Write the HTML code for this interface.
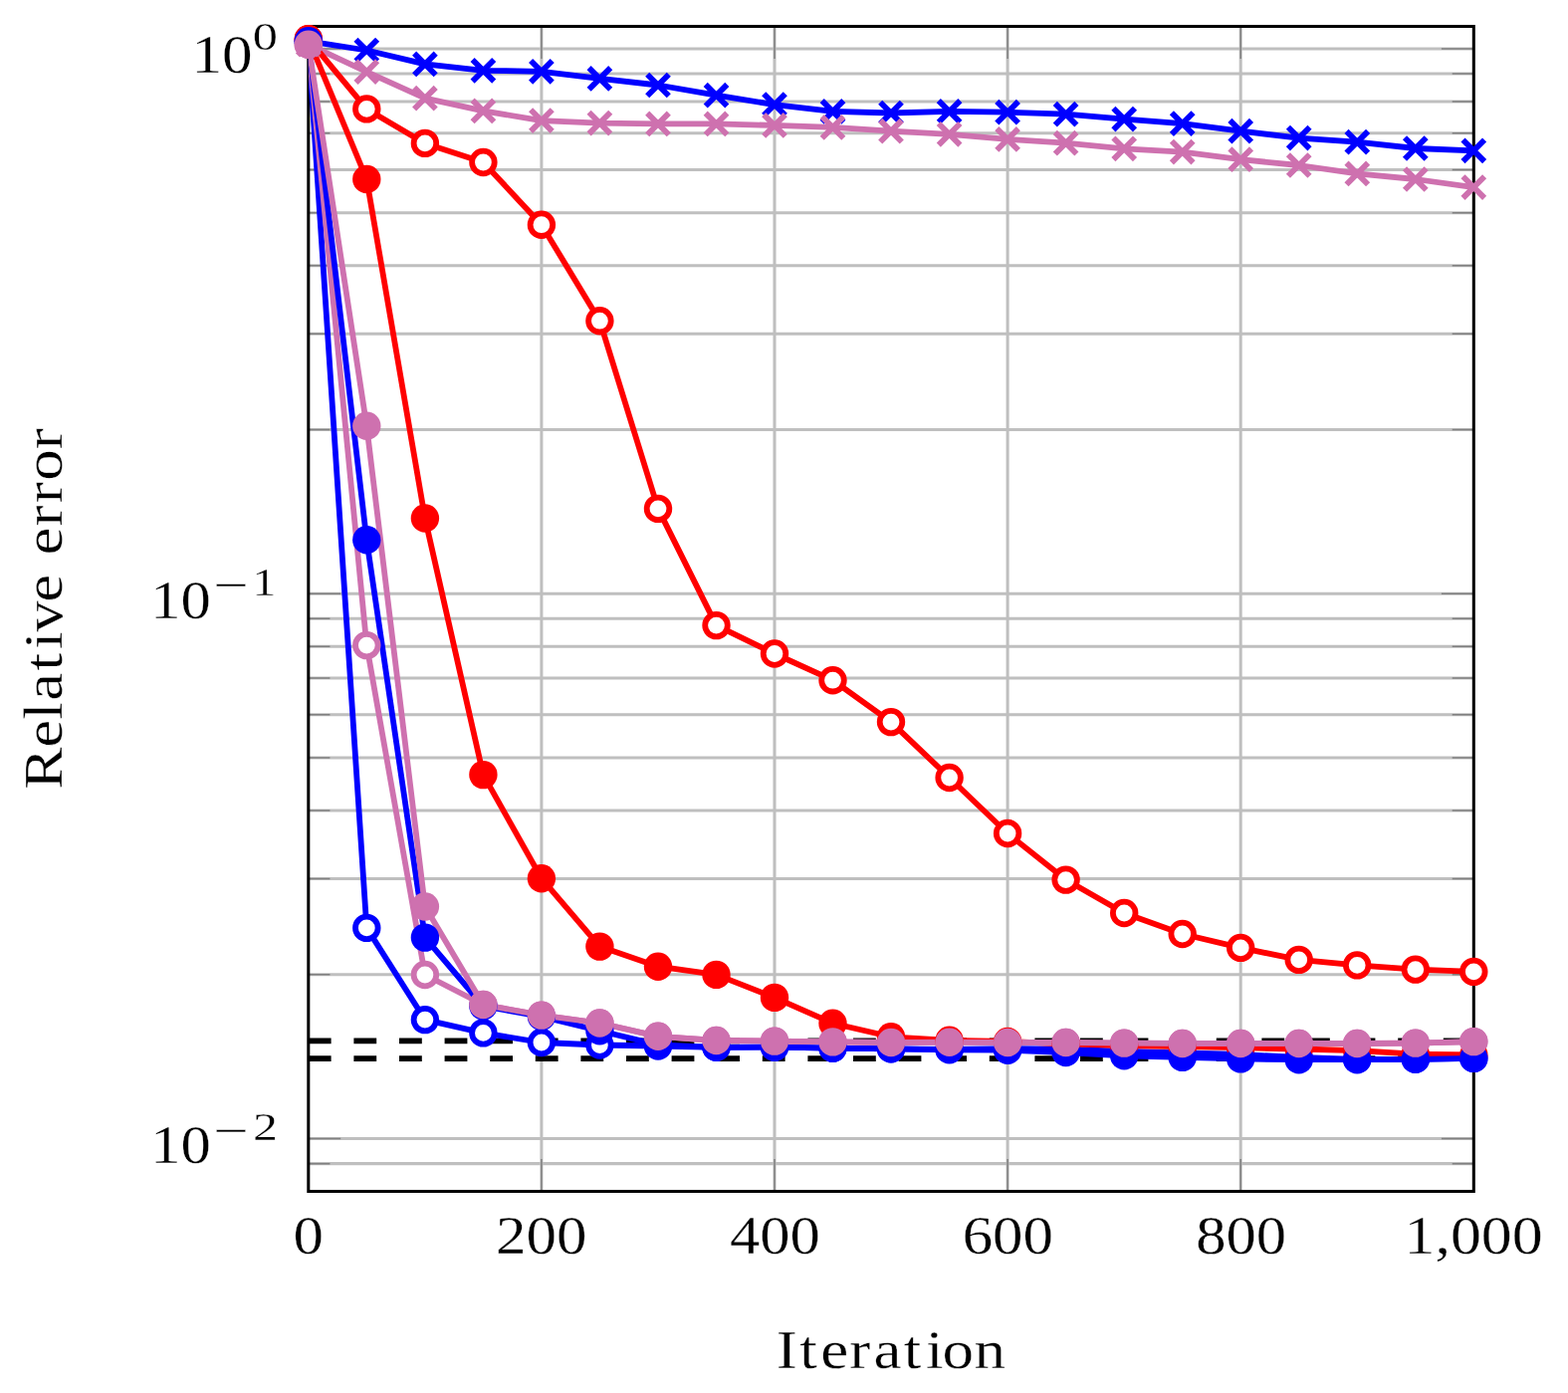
<!DOCTYPE html>
<html lang="en"><head><meta charset="utf-8"><title>Relative error vs. iteration</title>
<style>html,body{margin:0;padding:0;background:#fff}body{width:1575px;height:1399px;overflow:hidden}svg{display:block}text{font-family:"Liberation Serif","DejaVu Serif",serif;fill:#000;stroke:#fff;stroke-width:0.3px}</style></head><body>
<svg width="1575" height="1399" viewBox="0 0 1575 1399">
<rect width="1575" height="1399" fill="#fff"/>
<path d="M543.90 26.50V1196.50M778.00 26.50V1196.50M1012.10 26.50V1196.50M1246.20 26.50V1196.50M309.80 1168.64H1480.30M309.80 1143.60H1480.30M309.80 978.85H1480.30M309.80 882.47H1480.30M309.80 814.09H1480.30M309.80 761.05H1480.30M309.80 717.72H1480.30M309.80 681.08H1480.30M309.80 649.34H1480.30M309.80 621.34H1480.30M309.80 596.30H1480.30M309.80 431.55H1480.30M309.80 335.17H1480.30M309.80 266.79H1480.30M309.80 213.75H1480.30M309.80 170.42H1480.30M309.80 133.78H1480.30M309.80 102.04H1480.30M309.80 74.04H1480.30M309.80 49.00H1480.30" fill="none" stroke="#bfbfbf" stroke-width="3.04"/>
<path d="M309.80 1196.50v-32.40M309.80 26.50v32.40M543.90 1196.50v-32.40M543.90 26.50v32.40M778.00 1196.50v-32.40M778.00 26.50v32.40M1012.10 1196.50v-32.40M1012.10 26.50v32.40M1246.20 1196.50v-32.40M1246.20 26.50v32.40M1480.30 1196.50v-32.40M1480.30 26.50v32.40M309.80 1143.60h32.40M1480.30 1143.60h-32.40M309.80 596.30h32.40M1480.30 596.30h-32.40M309.80 49.00h32.40M1480.30 49.00h-32.40M309.80 1168.64h21.60M1480.30 1168.64h-21.60M309.80 978.85h21.60M1480.30 978.85h-21.60M309.80 882.47h21.60M1480.30 882.47h-21.60M309.80 814.09h21.60M1480.30 814.09h-21.60M309.80 761.05h21.60M1480.30 761.05h-21.60M309.80 717.72h21.60M1480.30 717.72h-21.60M309.80 681.08h21.60M1480.30 681.08h-21.60M309.80 649.34h21.60M1480.30 649.34h-21.60M309.80 621.34h21.60M1480.30 621.34h-21.60M309.80 431.55h21.60M1480.30 431.55h-21.60M309.80 335.17h21.60M1480.30 335.17h-21.60M309.80 266.79h21.60M1480.30 266.79h-21.60M309.80 213.75h21.60M1480.30 213.75h-21.60M309.80 170.42h21.60M1480.30 170.42h-21.60M309.80 133.78h21.60M1480.30 133.78h-21.60M309.80 102.04h21.60M1480.30 102.04h-21.60M309.80 74.04h21.60M1480.30 74.04h-21.60" fill="none" stroke="#808080" stroke-width="1.52"/>
<rect x="309.80" y="26.50" width="1170.50" height="1170.00" fill="none" stroke="#000" stroke-width="3.04"/>
<defs><clipPath id="c"><rect x="309.80" y="26.50" width="1170.50" height="1170.00"/></clipPath></defs>
<g clip-path="url(#c)" fill="none" stroke-width="5.80" stroke-linejoin="round">
<path d="M309.80 1045.40H1480.30" stroke="#000" stroke-dasharray="22.8 22.8"/>
<path d="M309.80 1063.20H1480.30" stroke="#000" stroke-dasharray="22.8 22.8"/>
<polyline points="309.8,41.3 368.3,50.5 426.9,64.4 485.4,70.8 543.9,71.8 602.4,78.9 661.0,85.5 719.5,95.7 778.0,105.1 836.5,111.9 895.0,113.5 953.6,111.9 1012.1,112.7 1070.6,114.7 1129.2,119.6 1187.7,124.1 1246.2,131.7 1304.7,138.6 1363.2,142.7 1421.8,149.0 1480.3,151.3" stroke="#0000ff"/>
<polyline points="309.8,44.7 368.3,72.1 426.9,98.7 485.4,111.4 543.9,121.1 602.4,123.6 661.0,124.4 719.5,124.4 778.0,125.9 836.5,127.9 895.0,131.7 953.6,134.8 1012.1,139.9 1070.6,143.7 1129.2,149.3 1187.7,152.6 1246.2,160.2 1304.7,166.0 1363.2,174.4 1421.8,180.0 1480.3,188.1" stroke="#ce71af"/>
<polyline points="309.8,39.2 368.3,109.4 426.9,143.9 485.4,163.0 543.9,225.7 602.4,322.2 661.0,510.9 719.5,628.1 778.0,656.5 836.5,683.2 895.0,725.1 953.6,781.0 1012.1,837.0 1070.6,883.6 1129.2,917.0 1187.7,938.0 1246.2,951.9 1304.7,963.9 1363.2,969.4 1421.8,973.6 1480.3,975.9" stroke="#ff0000"/>
<polyline points="309.8,41.3 368.3,931.9 426.9,1024.1 485.4,1037.4 543.9,1047.0 602.4,1049.5 661.0,1050.5 719.5,1051.8 778.0,1051.6 836.5,1052.6 895.0,1053.3 953.6,1053.8 1012.1,1053.2 1070.6,1053.6 1129.2,1055.8 1187.7,1057.3 1246.2,1059.0 1304.7,1062.0 1363.2,1063.8 1421.8,1063.8 1480.3,1062.9" stroke="#0000ff"/>
<polyline points="309.8,44.7 368.3,648.1 426.9,979.0 485.4,1009.0 543.9,1019.6 602.4,1027.5 661.0,1040.8 719.5,1045.0 778.0,1045.6 836.5,1046.4 895.0,1047.0 953.6,1046.7 1012.1,1047.0 1070.6,1047.0 1129.2,1047.6 1187.7,1048.0 1246.2,1048.0 1304.7,1048.0 1363.2,1048.0 1421.8,1047.6 1480.3,1046.1" stroke="#ce71af"/>
<polyline points="309.8,39.2 368.3,180.0 426.9,520.5 485.4,778.1 543.9,882.2 602.4,950.6 661.0,970.7 719.5,978.9 778.0,1001.9 836.5,1027.7 895.0,1041.3 953.6,1044.8 1012.1,1046.0 1070.6,1048.3 1129.2,1050.0 1187.7,1051.2 1246.2,1052.2 1304.7,1053.5 1363.2,1055.2 1421.8,1058.6 1480.3,1059.5" stroke="#ff0000"/>
<polyline points="309.8,41.3 368.3,542.3 426.9,941.6 485.4,1010.5 543.9,1021.0 602.4,1035.3 661.0,1049.4 719.5,1051.8 778.0,1051.6 836.5,1052.6 895.0,1053.3 953.6,1054.3 1012.1,1054.7 1070.6,1057.0 1129.2,1060.3 1187.7,1061.9 1246.2,1063.4 1304.7,1064.2 1363.2,1064.2 1421.8,1063.8 1480.3,1062.9" stroke="#0000ff"/>
<polyline points="309.8,44.7 368.3,427.8 426.9,910.5 485.4,1009.0 543.9,1019.6 602.4,1027.5 661.0,1040.8 719.5,1045.0 778.0,1045.6 836.5,1046.4 895.0,1047.0 953.6,1046.7 1012.1,1047.0 1070.6,1047.0 1129.2,1047.6 1187.7,1048.0 1246.2,1048.0 1304.7,1048.0 1363.2,1048.0 1421.8,1047.6 1480.3,1046.1" stroke="#ce71af"/>
</g>
<path d="M299.0 30.5l21.6 21.6m0 -21.6l-21.6 21.6M357.5 39.7l21.6 21.6m0 -21.6l-21.6 21.6M416.1 53.6l21.6 21.6m0 -21.6l-21.6 21.6M474.6 60.0l21.6 21.6m0 -21.6l-21.6 21.6M533.1 61.0l21.6 21.6m0 -21.6l-21.6 21.6M591.6 68.1l21.6 21.6m0 -21.6l-21.6 21.6M650.2 74.7l21.6 21.6m0 -21.6l-21.6 21.6M708.7 84.9l21.6 21.6m0 -21.6l-21.6 21.6M767.2 94.3l21.6 21.6m0 -21.6l-21.6 21.6M825.7 101.1l21.6 21.6m0 -21.6l-21.6 21.6M884.2 102.7l21.6 21.6m0 -21.6l-21.6 21.6M942.8 101.1l21.6 21.6m0 -21.6l-21.6 21.6M1001.3 101.9l21.6 21.6m0 -21.6l-21.6 21.6M1059.8 103.9l21.6 21.6m0 -21.6l-21.6 21.6M1118.4 108.8l21.6 21.6m0 -21.6l-21.6 21.6M1176.9 113.3l21.6 21.6m0 -21.6l-21.6 21.6M1235.4 120.9l21.6 21.6m0 -21.6l-21.6 21.6M1293.9 127.8l21.6 21.6m0 -21.6l-21.6 21.6M1352.5 131.9l21.6 21.6m0 -21.6l-21.6 21.6M1411.0 138.2l21.6 21.6m0 -21.6l-21.6 21.6M1469.5 140.5l21.6 21.6m0 -21.6l-21.6 21.6" fill="none" stroke="#0000ff" stroke-width="5.80"/>
<path d="M299.0 33.9l21.6 21.6m0 -21.6l-21.6 21.6M357.5 61.3l21.6 21.6m0 -21.6l-21.6 21.6M416.1 87.9l21.6 21.6m0 -21.6l-21.6 21.6M474.6 100.6l21.6 21.6m0 -21.6l-21.6 21.6M533.1 110.3l21.6 21.6m0 -21.6l-21.6 21.6M591.6 112.8l21.6 21.6m0 -21.6l-21.6 21.6M650.2 113.6l21.6 21.6m0 -21.6l-21.6 21.6M708.7 113.6l21.6 21.6m0 -21.6l-21.6 21.6M767.2 115.1l21.6 21.6m0 -21.6l-21.6 21.6M825.7 117.1l21.6 21.6m0 -21.6l-21.6 21.6M884.2 120.9l21.6 21.6m0 -21.6l-21.6 21.6M942.8 124.0l21.6 21.6m0 -21.6l-21.6 21.6M1001.3 129.1l21.6 21.6m0 -21.6l-21.6 21.6M1059.8 132.9l21.6 21.6m0 -21.6l-21.6 21.6M1118.4 138.5l21.6 21.6m0 -21.6l-21.6 21.6M1176.9 141.8l21.6 21.6m0 -21.6l-21.6 21.6M1235.4 149.4l21.6 21.6m0 -21.6l-21.6 21.6M1293.9 155.2l21.6 21.6m0 -21.6l-21.6 21.6M1352.5 163.6l21.6 21.6m0 -21.6l-21.6 21.6M1411.0 169.2l21.6 21.6m0 -21.6l-21.6 21.6M1469.5 177.3l21.6 21.6m0 -21.6l-21.6 21.6" fill="none" stroke="#ce71af" stroke-width="5.80"/>
<g fill="#fff" stroke="#ff0000" stroke-width="5.80">
<circle cx="309.8" cy="39.2" r="11.3"/>
<circle cx="368.3" cy="109.4" r="11.3"/>
<circle cx="426.9" cy="143.9" r="11.3"/>
<circle cx="485.4" cy="163.0" r="11.3"/>
<circle cx="543.9" cy="225.7" r="11.3"/>
<circle cx="602.4" cy="322.2" r="11.3"/>
<circle cx="661.0" cy="510.9" r="11.3"/>
<circle cx="719.5" cy="628.1" r="11.3"/>
<circle cx="778.0" cy="656.5" r="11.3"/>
<circle cx="836.5" cy="683.2" r="11.3"/>
<circle cx="895.0" cy="725.1" r="11.3"/>
<circle cx="953.6" cy="781.0" r="11.3"/>
<circle cx="1012.1" cy="837.0" r="11.3"/>
<circle cx="1070.6" cy="883.6" r="11.3"/>
<circle cx="1129.2" cy="917.0" r="11.3"/>
<circle cx="1187.7" cy="938.0" r="11.3"/>
<circle cx="1246.2" cy="951.9" r="11.3"/>
<circle cx="1304.7" cy="963.9" r="11.3"/>
<circle cx="1363.2" cy="969.4" r="11.3"/>
<circle cx="1421.8" cy="973.6" r="11.3"/>
<circle cx="1480.3" cy="975.9" r="11.3"/>
</g>
<g fill="#fff" stroke="#0000ff" stroke-width="5.80">
<circle cx="309.8" cy="41.3" r="11.3"/>
<circle cx="368.3" cy="931.9" r="11.3"/>
<circle cx="426.9" cy="1024.1" r="11.3"/>
<circle cx="485.4" cy="1037.4" r="11.3"/>
<circle cx="543.9" cy="1047.0" r="11.3"/>
<circle cx="602.4" cy="1049.5" r="11.3"/>
<circle cx="661.0" cy="1050.5" r="11.3"/>
<circle cx="719.5" cy="1051.8" r="11.3"/>
<circle cx="778.0" cy="1051.6" r="11.3"/>
<circle cx="836.5" cy="1052.6" r="11.3"/>
<circle cx="895.0" cy="1053.3" r="11.3"/>
<circle cx="953.6" cy="1053.8" r="11.3"/>
<circle cx="1012.1" cy="1053.2" r="11.3"/>
<circle cx="1070.6" cy="1053.6" r="11.3"/>
<circle cx="1129.2" cy="1055.8" r="11.3"/>
<circle cx="1187.7" cy="1057.3" r="11.3"/>
<circle cx="1246.2" cy="1059.0" r="11.3"/>
<circle cx="1304.7" cy="1062.0" r="11.3"/>
<circle cx="1363.2" cy="1063.8" r="11.3"/>
<circle cx="1421.8" cy="1063.8" r="11.3"/>
<circle cx="1480.3" cy="1062.9" r="11.3"/>
</g>
<g fill="#fff" stroke="#ce71af" stroke-width="5.80">
<circle cx="309.8" cy="44.7" r="11.3"/>
<circle cx="368.3" cy="648.1" r="11.3"/>
<circle cx="426.9" cy="979.0" r="11.3"/>
<circle cx="485.4" cy="1009.0" r="11.3"/>
<circle cx="543.9" cy="1019.6" r="11.3"/>
<circle cx="602.4" cy="1027.5" r="11.3"/>
<circle cx="661.0" cy="1040.8" r="11.3"/>
<circle cx="719.5" cy="1045.0" r="11.3"/>
<circle cx="778.0" cy="1045.6" r="11.3"/>
<circle cx="836.5" cy="1046.4" r="11.3"/>
<circle cx="895.0" cy="1047.0" r="11.3"/>
<circle cx="953.6" cy="1046.7" r="11.3"/>
<circle cx="1012.1" cy="1047.0" r="11.3"/>
<circle cx="1070.6" cy="1047.0" r="11.3"/>
<circle cx="1129.2" cy="1047.6" r="11.3"/>
<circle cx="1187.7" cy="1048.0" r="11.3"/>
<circle cx="1246.2" cy="1048.0" r="11.3"/>
<circle cx="1304.7" cy="1048.0" r="11.3"/>
<circle cx="1363.2" cy="1048.0" r="11.3"/>
<circle cx="1421.8" cy="1047.6" r="11.3"/>
<circle cx="1480.3" cy="1046.1" r="11.3"/>
</g>
<g fill="#ff0000">
<circle cx="309.8" cy="39.2" r="14.2"/>
<circle cx="368.3" cy="180.0" r="14.2"/>
<circle cx="426.9" cy="520.5" r="14.2"/>
<circle cx="485.4" cy="778.1" r="14.2"/>
<circle cx="543.9" cy="882.2" r="14.2"/>
<circle cx="602.4" cy="950.6" r="14.2"/>
<circle cx="661.0" cy="970.7" r="14.2"/>
<circle cx="719.5" cy="978.9" r="14.2"/>
<circle cx="778.0" cy="1001.9" r="14.2"/>
<circle cx="836.5" cy="1027.7" r="14.2"/>
<circle cx="895.0" cy="1041.3" r="14.2"/>
<circle cx="953.6" cy="1044.8" r="14.2"/>
<circle cx="1012.1" cy="1046.0" r="14.2"/>
<circle cx="1070.6" cy="1048.3" r="14.2"/>
<circle cx="1129.2" cy="1050.0" r="14.2"/>
<circle cx="1187.7" cy="1051.2" r="14.2"/>
<circle cx="1246.2" cy="1052.2" r="14.2"/>
<circle cx="1304.7" cy="1053.5" r="14.2"/>
<circle cx="1363.2" cy="1055.2" r="14.2"/>
<circle cx="1421.8" cy="1058.6" r="14.2"/>
<circle cx="1480.3" cy="1059.5" r="14.2"/>
</g>
<g fill="#0000ff">
<circle cx="309.8" cy="41.3" r="14.2"/>
<circle cx="368.3" cy="542.3" r="14.2"/>
<circle cx="426.9" cy="941.6" r="14.2"/>
<circle cx="485.4" cy="1010.5" r="14.2"/>
<circle cx="543.9" cy="1021.0" r="14.2"/>
<circle cx="602.4" cy="1035.3" r="14.2"/>
<circle cx="661.0" cy="1049.4" r="14.2"/>
<circle cx="719.5" cy="1051.8" r="14.2"/>
<circle cx="778.0" cy="1051.6" r="14.2"/>
<circle cx="836.5" cy="1052.6" r="14.2"/>
<circle cx="895.0" cy="1053.3" r="14.2"/>
<circle cx="953.6" cy="1054.3" r="14.2"/>
<circle cx="1012.1" cy="1054.7" r="14.2"/>
<circle cx="1070.6" cy="1057.0" r="14.2"/>
<circle cx="1129.2" cy="1060.3" r="14.2"/>
<circle cx="1187.7" cy="1061.9" r="14.2"/>
<circle cx="1246.2" cy="1063.4" r="14.2"/>
<circle cx="1304.7" cy="1064.2" r="14.2"/>
<circle cx="1363.2" cy="1064.2" r="14.2"/>
<circle cx="1421.8" cy="1063.8" r="14.2"/>
<circle cx="1480.3" cy="1062.9" r="14.2"/>
</g>
<g fill="#ce71af">
<circle cx="309.8" cy="44.7" r="14.2"/>
<circle cx="368.3" cy="427.8" r="14.2"/>
<circle cx="426.9" cy="910.5" r="14.2"/>
<circle cx="485.4" cy="1009.0" r="14.2"/>
<circle cx="543.9" cy="1019.6" r="14.2"/>
<circle cx="602.4" cy="1027.5" r="14.2"/>
<circle cx="661.0" cy="1040.8" r="14.2"/>
<circle cx="719.5" cy="1045.0" r="14.2"/>
<circle cx="778.0" cy="1045.6" r="14.2"/>
<circle cx="836.5" cy="1046.4" r="14.2"/>
<circle cx="895.0" cy="1047.0" r="14.2"/>
<circle cx="953.6" cy="1046.7" r="14.2"/>
<circle cx="1012.1" cy="1047.0" r="14.2"/>
<circle cx="1070.6" cy="1047.0" r="14.2"/>
<circle cx="1129.2" cy="1047.6" r="14.2"/>
<circle cx="1187.7" cy="1048.0" r="14.2"/>
<circle cx="1246.2" cy="1048.0" r="14.2"/>
<circle cx="1304.7" cy="1048.0" r="14.2"/>
<circle cx="1363.2" cy="1048.0" r="14.2"/>
<circle cx="1421.8" cy="1047.6" r="14.2"/>
<circle cx="1480.3" cy="1046.1" r="14.2"/>
</g>
<text transform="translate(294.61 1258.80) scale(1.0947 1)" font-size="55.6">0</text>
<text transform="translate(497.96 1258.80) scale(1.0971 1)" font-size="55.6">200</text>
<text transform="translate(732.91 1258.80) scale(1.0903 1)" font-size="55.6">400</text>
<text transform="translate(966.66 1258.80) scale(1.0959 1)" font-size="55.6">600</text>
<text transform="translate(1201.22 1258.80) scale(1.0890 1)" font-size="55.6">800</text>
<text transform="translate(1410.54 1258.80) scale(1.1127 1)" font-size="55.6">1,000</text>
<text transform="translate(192.41 72.60) scale(1.0990 1)" font-size="55.6">10</text>
<text transform="translate(253.86 50.00) scale(1.2909 1)" font-size="39">0</text>
<text transform="translate(151.36 620.60) scale(1.0887 1)" font-size="55.6">10</text>
<text transform="translate(214.61 603.35) scale(1.3721 1)" font-size="46">−</text>
<text transform="translate(253.52 597.50) scale(1.2218 1)" font-size="39">1</text>
<text transform="translate(151.36 1167.60) scale(1.0887 1)" font-size="55.6">10</text>
<text transform="translate(214.61 1150.85) scale(1.3721 1)" font-size="46">−</text>
<text transform="translate(254.06 1144.90) scale(1.2774 1)" font-size="39">2</text>
<text transform="translate(781.7 1373.5) scale(1.1500 1)" font-size="54.8" x="-1.60 18.68 36.93 62.28 83.29 109.51 128.86 143.20 171.21" y="0">Iteration</text>
<text transform="translate(62.0 791.4) rotate(-90) scale(1.1500 1)" font-size="54.8" x="-1.22 35.45 59.68 76.29 102.51 121.25 136.16 162.23 186.56 203.45 228.54 248.89 268.33 295.89" y="0">Relative error</text>
</svg></body></html>
